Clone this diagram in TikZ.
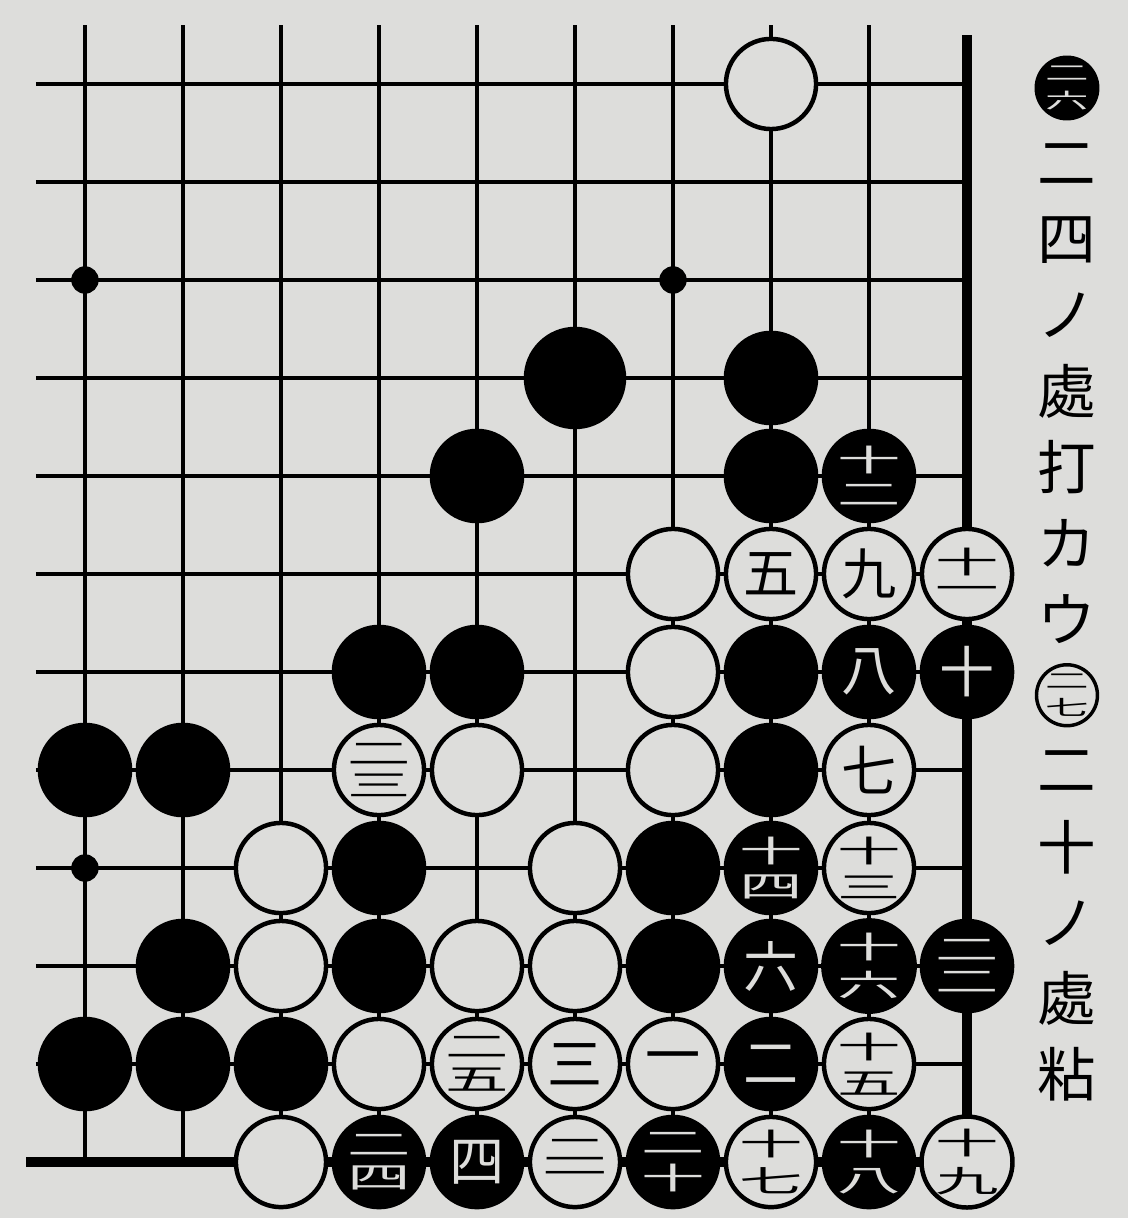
\documentclass[tikz,border=0pt]{standalone}
\usepackage{fontspec}
\usepackage{graphicx}
\newfontfamily\cjk{Noto Sans CJK JP}
\usetikzlibrary{positioning}
\definecolor{paper}{RGB}{221,221,219}
% two numerals squeezed into one square, as the old go books print 12, 24 ...
\newcommand{\kan}[2]{{\lineskip=2.5pt\shortstack{\scalebox{1.15}[.55]{#1}\\\scalebox{1.15}[.55]{#2}}}}

\begin{document}
\begin{tikzpicture}[
    grid/.style={line width=1.2pt},
    edge/.style={line width=3pt},
    wstone/.style={circle, draw, line width=1.3pt, fill=paper, minimum size=0.92cm, inner sep=0pt, font=\cjk\fontsize{16}{16}\selectfont},
    bstone/.style={wstone, fill=black, text=paper},
    hoshi/.style={circle, fill=black, minimum size=0.28cm, inner sep=0pt},
    moji/.style={font=\cjk\fontsize{17}{17}\selectfont, inner sep=0pt},
    maru/.style={circle, draw, line width=1pt, minimum size=0.6cm, inner sep=0pt, font=\cjk\fontsize{11}{11}\selectfont}
]
\useasboundingbox[fill=paper] (-0.867,-0.571) rectangle (10.643,11.857);

% board lines, right and bottom edges thick
\foreach \x in {0,...,8} \draw[grid] (\x,0) -- (\x,11.6);
\foreach \y in {1,...,11} \draw[grid] (-0.5,\y) -- (9,\y);
\draw[edge] (9,0) -- (9,11.5);
\draw[edge] (-0.6,0) -- (9,0);

\node[hoshi] (tengen) at (0,9) {};
\node[hoshi] (hoshiG) at (6,9) {};
\node[hoshi] (hoshiA) at (0,3) {};

% stones
\node[wstone] (h12) at (7,11) {};

\node[bstone, minimum size=1.0cm] (f9) at (5,8) {};
\node[bstone] (h9) at (7,8) {};

\node[bstone] (e8) at (4,7) {};
\node[bstone] (h8) at (7,7) {};
\node[bstone] (i8) at (8,7) {\kan{十}{二}};

\node[wstone] (g7) at (6,6) {};
\node[wstone] (h7) at (7,6) {五};
\node[wstone] (i7) at (8,6) {九};
\node[wstone] (j7) at (9,6) {\kan{十}{一}};

\node[bstone] (d6) at (3,5) {};
\node[bstone] (e6) at (4,5) {};
\node[wstone] (g6) at (6,5) {};
\node[bstone] (h6) at (7,5) {};
\node[bstone] (i6) at (8,5) {八};
\node[bstone] (j6) at (9,5) {十};

\node[bstone] (a5) at (0,4) {};
\node[bstone] (b5) at (1,4) {};
\node[wstone] (d5) at (3,4) {\kan{二}{三}};
\node[wstone] (e5) at (4,4) {};
\node[wstone] (g5) at (6,4) {};
\node[bstone] (h5) at (7,4) {};
\node[wstone] (i5) at (8,4) {七};

\node[wstone] (c4) at (2,3) {};
\node[bstone] (d4) at (3,3) {};
\node[wstone] (f4) at (5,3) {};
\node[bstone] (g4) at (6,3) {};
\node[bstone] (h4) at (7,3) {\kan{十}{四}};
\node[wstone] (i4) at (8,3) {\kan{十}{三}};

\node[bstone] (b3) at (1,2) {};
\node[wstone] (c3) at (2,2) {};
\node[bstone] (d3) at (3,2) {};
\node[wstone] (e3) at (4,2) {};
\node[wstone] (f3) at (5,2) {};
\node[bstone] (g3) at (6,2) {};
\node[bstone] (h3) at (7,2) {六};
\node[bstone] (i3) at (8,2) {\kan{十}{六}};
\node[bstone] (j3) at (9,2) {\kan{二}{二}};

\node[bstone] (a2) at (0,1) {};
\node[bstone] (b2) at (1,1) {};
\node[bstone] (c2) at (2,1) {};
\node[wstone] (d2) at (3,1) {};
\node[wstone] (e2) at (4,1) {\kan{二}{五}};
\node[wstone] (f2) at (5,1) {三};
\node[wstone] (g2) at (6,1) {一};
\node[bstone] (h2) at (7,1) {二};
\node[wstone] (i2) at (8,1) {\kan{十}{五}};

\node[wstone] (c1) at (2,0) {};
\node[bstone] (d1) at (3,0) {\kan{二}{四}};
\node[bstone] (e1) at (4,0) {四};
\node[wstone] (f1) at (5,0) {\kan{二}{一}};
\node[bstone] (g1) at (6,0) {\kan{二}{十}};
\node[wstone] (h1) at (7,0) {\kan{十}{七}};
\node[bstone] (i1) at (8,0) {\kan{十}{八}};
\node[wstone] (j1) at (9,0) {\kan{十}{九}};

% caption, read top to bottom
\node[maru, fill=black, text=paper] (n26) at (10.02,10.959) {\kan{二}{六}};
\node[moji] (t1) at (10.02,10.185) {二};
\node[moji] (t2) at (10.02,9.410) {四};
\node[moji] (t3) at (10.02,8.636) {ノ};
\node[moji] (t4) at (10.02,7.861) {處};
\node[moji] (t5) at (10.02,7.087) {打};
\node[moji] (t6) at (10.02,6.312) {カ};
\node[moji] (t7) at (10.02,5.538) {ウ};
\node[maru, fill=paper] (n27) at (10.02,4.763) {\kan{二}{七}};
\node[moji] (t8) at (10.02,3.989) {二};
\node[moji] (t9) at (10.02,3.214) {十};
\node[moji] (t10) at (10.02,2.440) {ノ};
\node[moji] (t11) at (10.02,1.665) {處};
\node[moji] (t12) at (10.02,0.891) {粘};
\end{tikzpicture}
\end{document}
